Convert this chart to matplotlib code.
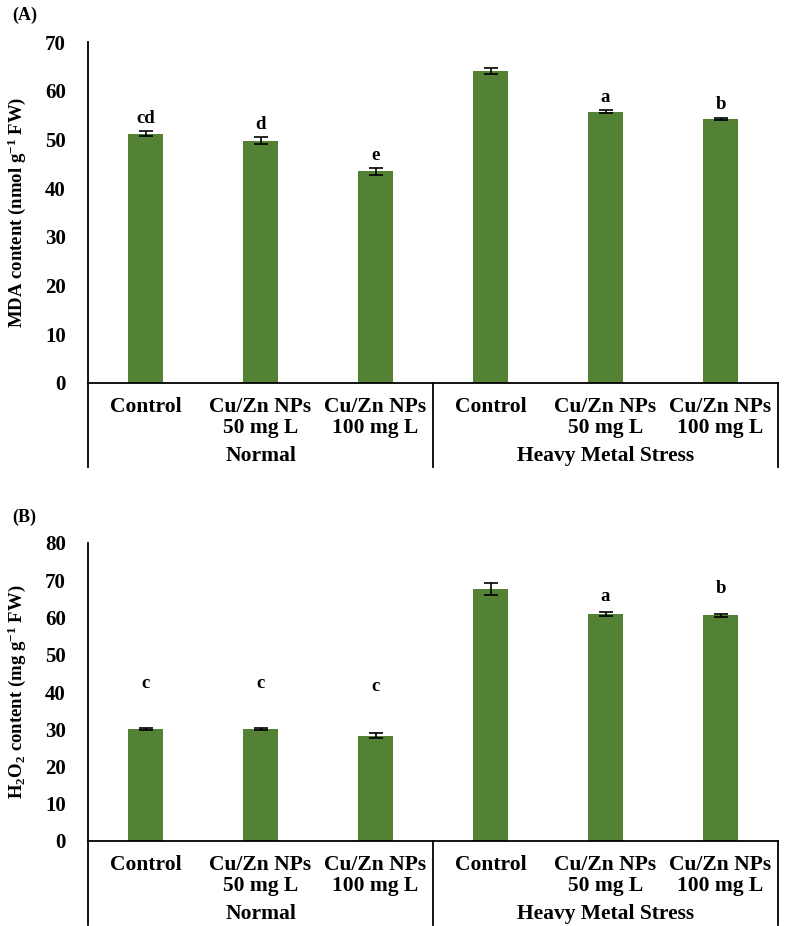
import matplotlib
matplotlib.use('Agg')
import matplotlib.pyplot as plt
import matplotlib.transforms as mtransforms
import numpy as np

plt.rcParams['font.family'] = 'Liberation Serif'
plt.rcParams['font.weight'] = 'bold'
plt.rcParams['mathtext.fontset'] = 'custom'
plt.rcParams['mathtext.rm'] = 'Liberation Serif:bold'
plt.rcParams['mathtext.it'] = 'Liberation Serif:bold'
plt.rcParams['mathtext.bf'] = 'Liberation Serif:bold'
plt.rcParams['mathtext.default'] = 'rm'

# data
categories = ['Control', 'Cu/Zn NPs\n50 mg L', 'Cu/Zn NPs\n100 mg L',
              'Control', 'Cu/Zn NPs\n50 mg L', 'Cu/Zn NPs\n100 mg L']
groups = ['Normal', 'Heavy Metal Stress']

mda = [51.2, 49.7, 43.5, 64.0, 55.7, 54.2]
mda_err = [0.5, 0.7, 0.7, 0.6, 0.3, 0.3]
mda_letters = ['cd', 'd', 'e', '', 'a', 'b']

h2o2 = [30.0, 30.0, 28.3, 67.6, 61.0, 60.6]
h2o2_err = [0.3, 0.3, 0.7, 1.6, 0.6, 0.4]
h2o2_letters = ['c', 'c', 'c', '', 'a', 'b']
# letter offsets above the error bar (points)
h2o2_offsets = [26, 26, 27, 0, 5, 12]
mda_offsets = [3, 3, 3, 0, 3, 3]

green = '#548235'

fig = plt.figure(figsize=(7.89, 9.26), dpi=100)
W, H = 789, 926


def panel(rect_px, vals, errs, letters, offsets, ymax, step, ylabel, tag, tag_y):
    left, top, right, bottom = rect_px
    ax = fig.add_axes([left / W, 1 - bottom / H, (right - left) / W, (bottom - top) / H])
    hpx = bottom - top
    x = np.arange(len(vals))
    ax.bar(x, vals, 0.3, color=green, zorder=2)
    ax.errorbar(x, vals, yerr=errs, fmt='none', ecolor='black', elinewidth=1.2,
                capsize=5, capthick=1.2, zorder=3)
    for xi, v, e, lab, off in zip(x, vals, errs, letters, offsets):
        if lab:
            ax.annotate(lab, (xi, v + e), xytext=(0, off), textcoords='offset points',
                        ha='center', va='bottom', fontsize=13.5, fontweight='bold')
    ax.set_xlim(-0.5, len(vals) - 0.5)
    ax.set_ylim(0, ymax)
    ax.set_yticks(np.arange(0, ymax + 1, step))
    ax.set_xticks(x)
    ax.set_xticklabels(categories, fontsize=15.5, fontweight='bold', linespacing=1.05)
    ax.tick_params(axis='both', length=0)
    ax.tick_params(axis='y', pad=16, labelsize=15)
    ax.tick_params(axis='x', pad=10)
    for s in ['top', 'right']:
        ax.spines[s].set_visible(False)
    ax.spines['left'].set_linewidth(1.3)
    ax.spines['bottom'].set_linewidth(1.3)
    ax.set_ylabel(ylabel, fontsize=13.5, fontweight='bold')
    ax.yaxis.set_label_coords(-60 / (right - left), 0.5)

    trans = mtransforms.blended_transform_factory(ax.transData, ax.transAxes)
    line_bottom = -84 / hpx
    for xv in [-0.5, 2.5, 5.5]:
        ax.plot([xv, xv], [0, line_bottom], color='black', lw=1.3,
                transform=trans, clip_on=False)
    ax.text(1, -73 / hpx, groups[0], transform=trans, ha='center', va='center',
            fontsize=15.5, fontweight='bold')
    ax.text(4, -73 / hpx, groups[1], transform=trans, ha='center', va='center',
            fontsize=15.5, fontweight='bold')
    fig.text(12 / W, 1 - tag_y / H, tag, ha='left', va='center', fontsize=13,
             fontweight='bold')
    return ax


panel((88, 42, 778, 383), mda, mda_err, mda_letters, mda_offsets, 70, 10,
      'MDA content (nmol g$^{-1}$ FW)', '(A)', 15)
panel((88, 543, 778, 841), h2o2, h2o2_err, h2o2_letters, h2o2_offsets, 80, 10,
      'H$_2$O$_2$ content (mg g$^{-1}$ FW)', '(B)', 517)

fig.savefig('out.png', dpi=100)
